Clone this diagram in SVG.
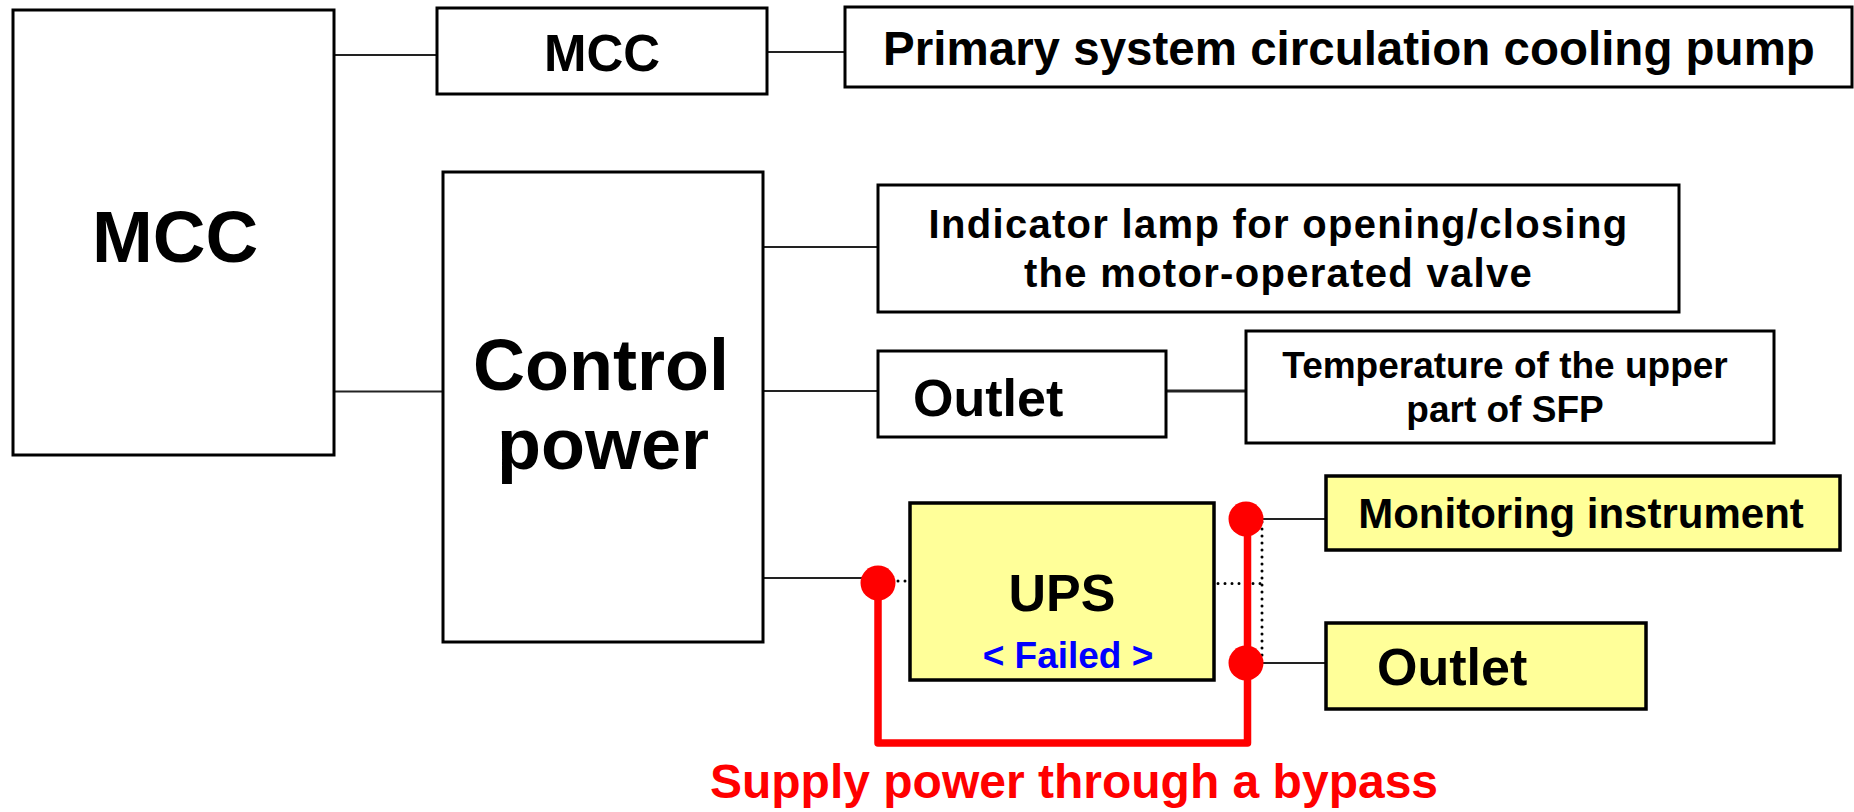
<svg xmlns="http://www.w3.org/2000/svg" width="1854" height="812" viewBox="0 0 1854 812">
<style>
.box{fill:#fff;stroke:#000;stroke-width:3}
.ybox{fill:#FFFF99;stroke:#000;stroke-width:3.5}
.t{font-family:"Liberation Sans",Arial,sans-serif;font-weight:bold;fill:#000;text-anchor:middle}
.tl{font-family:"Liberation Sans",Arial,sans-serif;font-weight:bold;fill:#000}
.ln{stroke:#222;stroke-width:2;fill:none}
.dot{stroke:#000;stroke-width:3;stroke-dasharray:0 7;stroke-linecap:round;fill:none}
.red{stroke:#FF0000;stroke-width:7.5;fill:none;stroke-linejoin:round}
.rdot{fill:#FF0000}
</style>
<rect width="1854" height="812" fill="#fff"/>
<g id="connectors">
<line class="ln" x1="334" y1="55" x2="437" y2="55"/>
<line class="ln" x1="767" y1="52" x2="845" y2="52"/>
<line class="ln" x1="331" y1="391.5" x2="443" y2="391.5"/>
<line class="ln" x1="763" y1="247" x2="878" y2="247"/>
<line class="ln" x1="763" y1="391" x2="878" y2="391"/>
<line class="ln" x1="1166" y1="391" x2="1246" y2="391" style="stroke-width:3"/>
<line class="ln" x1="763" y1="578" x2="878" y2="578"/>
<line class="ln" x1="1246" y1="519" x2="1326" y2="519"/>
<line class="ln" x1="1246" y1="663" x2="1326" y2="663"/>
<line class="dot" x1="863" y1="581" x2="908" y2="581"/>
<line class="dot" x1="1218" y1="583.5" x2="1262" y2="583.5"/>
<line class="dot" x1="1262" y1="522" x2="1262" y2="661"/>
<path class="red" d="M878 583 V743 H1247.5 V519"/>
<circle class="rdot" cx="878" cy="583" r="17.5"/>
<circle class="rdot" cx="1246" cy="519" r="17.5"/>
<circle class="rdot" cx="1246" cy="663" r="17.5"/>
</g>
<g id="mcc-main">
<rect class="box" x="13" y="10" width="321" height="445"/>
<text class="t" x="175" y="262" font-size="73">MCC</text>
</g>
<g id="mcc-small">
<rect class="box" x="437" y="8" width="330" height="86"/>
<text class="t" x="602" y="71" font-size="51">MCC</text>
</g>
<g id="pump">
<rect class="box" x="845" y="7" width="1007" height="80"/>
<text class="t" x="1349" y="64.5" font-size="47.5">Primary system circulation cooling pump</text>
</g>
<g id="control-power">
<rect class="box" x="443" y="172" width="320" height="470"/>
<text class="t" x="601" y="390" font-size="72">Control</text>
<text class="t" x="603" y="469" font-size="72">power</text>
</g>
<g id="indicator">
<rect class="box" x="878" y="185" width="801" height="127"/>
<text class="t" x="1278.5" y="238" font-size="40" letter-spacing="1.3">Indicator lamp for opening/closing</text>
<text class="t" x="1278.5" y="287" font-size="40" letter-spacing="1.3">the motor-operated valve</text>
</g>
<g id="outlet1">
<rect class="box" x="878" y="351" width="288" height="86"/>
<text class="tl" x="913" y="416" font-size="52">Outlet</text>
</g>
<g id="temperature">
<rect class="box" x="1246" y="331" width="528" height="112"/>
<text class="t" x="1505" y="378" font-size="37">Temperature of the upper</text>
<text class="t" x="1505" y="421.5" font-size="37">part of SFP</text>
</g>
<g id="ups">
<rect class="ybox" x="910" y="503" width="304" height="177"/>
<text class="t" x="1062" y="611" font-size="52">UPS</text>
<text class="t" x="1068" y="668" font-size="37" style="fill:#0000FF">&lt; Failed &gt;</text>
</g>
<g id="monitoring">
<rect class="ybox" x="1326" y="476" width="514" height="74"/>
<text class="t" x="1581" y="528" font-size="42">Monitoring instrument</text>
</g>
<g id="outlet2">
<rect class="ybox" x="1326" y="623" width="320" height="86"/>
<text class="tl" x="1377" y="685" font-size="52">Outlet</text>
</g>
<g id="bypass-label">
<text class="t" x="1074" y="798" font-size="48" style="fill:#FF0000">Supply power through a bypass</text>
</g>
</svg>
